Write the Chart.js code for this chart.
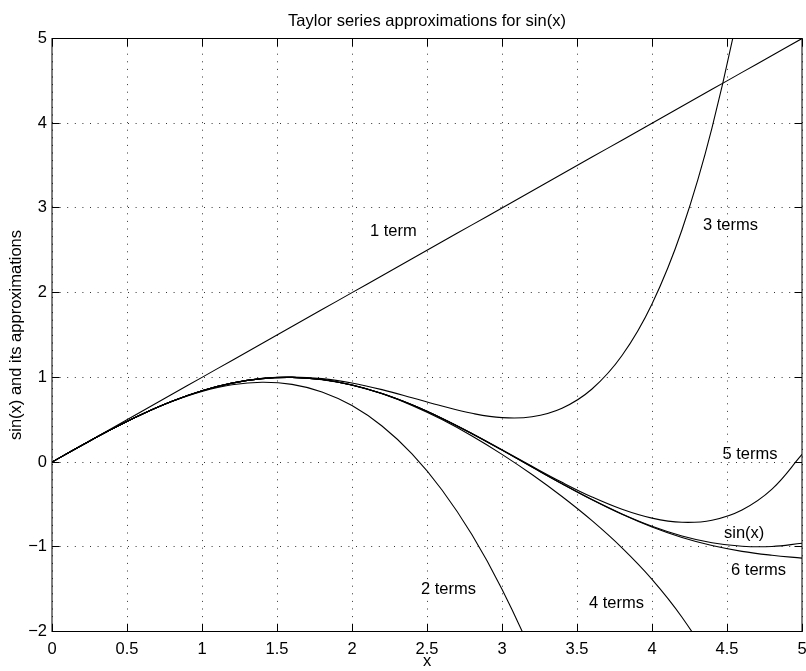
<!DOCTYPE html>
<html>
<head>
<meta charset="utf-8">
<script src="https://cdn.jsdelivr.net/npm/chart.js@4.4.1/dist/chart.umd.min.js"></script>
<style>
  html, body { margin: 0; padding: 0; background: #fff; }
  #wrap { width: 806px; height: 671px; }
</style>
</head>
<body>
<div id="wrap"><canvas id="taylorChart" width="806" height="671"></canvas></div>
<script>
// sample points along x
const xs = [0, 0.2, 0.4, 0.6, 0.8, 1.0, 1.2, 1.4, 1.6, 1.8, 2.0, 2.2, 2.4,
  2.6, 2.8, 3.0, 3.2, 3.4, 3.6, 3.8, 4.0, 4.2, 4.4, 4.6, 4.8, 5.0];

const sinX = [0, 0.1987, 0.3894, 0.5646, 0.7174, 0.8415, 0.9320, 0.9854, 0.9996,
  0.9738, 0.9093, 0.8085, 0.6755, 0.5155, 0.3350, 0.1411, -0.0584, -0.2555,
  -0.4425, -0.6119, -0.7568, -0.8716, -0.9516, -0.9937, -0.9962, -0.9589];
const term1 = [0, 0.2, 0.4, 0.6, 0.8, 1.0, 1.2, 1.4, 1.6, 1.8, 2.0, 2.2, 2.4,
  2.6, 2.8, 3.0, 3.2, 3.4, 3.6, 3.8, 4.0, 4.2, 4.4, 4.6, 4.8, 5.0];
const term2 = [0, 0.1987, 0.3893, 0.5640, 0.7147, 0.8333, 0.9120, 0.9427, 0.9173,
  0.8280, 0.6667, 0.4253, 0.0960, -0.3293, -0.8587, -1.5, -2.2613, -3.1507,
  -4.176, -5.3453, -6.6667, -8.148, -9.7973, -11.6227, -13.632, -15.8333];
const term3 = [0, 0.1987, 0.3894, 0.5646, 0.7174, 0.8417, 0.9327, 0.9875, 1.0047,
  0.9855, 0.9333, 0.8548, 0.7596, 0.6608, 0.5755, 0.525, 0.5349, 0.6356,
  0.8629, 1.2576, 1.8667, 2.7429, 3.9457, 5.5409, 7.6017, 10.2083];
const term4 = [0, 0.1987, 0.3894, 0.5646, 0.7174, 0.8415, 0.9320, 0.9854, 0.9994,
  0.9733, 0.9079, 0.8053, 0.6686, 0.5014, 0.3078, 0.0911, -0.1469, -0.4065,
  -0.6920, -1.0126, -1.3841, -1.8313, -2.3892, -3.1063, -4.0465, -5.2927];
const term5 = [0, 0.1987, 0.3894, 0.5646, 0.7174, 0.8415, 0.9320, 0.9855, 0.9996,
  0.9739, 0.9093, 0.8086, 0.6758, 0.5164, 0.3370, 0.1453, -0.0499, -0.2392,
  -0.4121, -0.5573, -0.6617, -0.7106, -0.6858, -0.5650, -0.3191, 0.0896];
const term6 = [0, 0.1987, 0.3894, 0.5646, 0.7174, 0.8415, 0.9320, 0.9854, 0.9996,
  0.9738, 0.9093, 0.8085, 0.6755, 0.5155, 0.3349, 0.1409, -0.0589, -0.2568,
  -0.4451, -0.6170, -0.7668, -0.8903, -0.9856, -1.0538, -1.0998, -1.1337];

// text labels placed on the plot (data coordinates)
const labelText = ['1 term', '2 terms', '3 terms', '4 terms', '5 terms', '6 terms', 'sin(x)'];
const labelX = [2.12, 2.46, 4.34, 3.58, 4.47, 4.527, 4.48];
const labelY = [2.72, -1.50, 2.79, -1.672, 0.09, -1.275, -0.844];

const FONT = "'Liberation Sans', Arial, Helvetica, sans-serif";
const FSIZE = 16.5;
const TICK = 7.5;

Chart.defaults.font.family = FONT;
Chart.defaults.color = '#000';

function series(ys) {
  return xs.map((x, i) => ({ x: x, y: ys[i] }));
}

function line(ys) {
  return {
    data: series(ys),
    borderColor: '#000',
    borderWidth: 1.1,
    pointRadius: 0,
    fill: false,
    tension: 0.4
  };
}

// box, inward ticks on all four sides, and the curve labels
const matlabFrame = {
  id: 'matlabFrame',
  afterLayout(chart) {
    // center the title over the plot box, like MATLAB does
    const tb = chart.titleBlock;
    if (tb) {
      tb.left = chart.chartArea.left;
      tb.right = chart.chartArea.right;
    }
  },
  afterDraw(chart) {
    const { ctx, chartArea: a, scales: { x, y } } = chart;
    const align = p => Math.round(p - 0.5) + 0.5;
    ctx.save();
    ctx.strokeStyle = '#000';
    ctx.lineWidth = 1;
    ctx.beginPath();
    x.ticks.forEach(t => {
      const px = align(x.getPixelForValue(t.value));
      ctx.moveTo(px, a.bottom); ctx.lineTo(px, a.bottom - TICK);
      ctx.moveTo(px, a.top); ctx.lineTo(px, a.top + TICK);
    });
    y.ticks.forEach(t => {
      const py = align(y.getPixelForValue(t.value));
      ctx.moveTo(a.left, py); ctx.lineTo(a.left + TICK, py);
      ctx.moveTo(a.right, py); ctx.lineTo(a.right - TICK, py);
    });
    ctx.stroke();
    ctx.strokeRect(a.left, a.top, a.right - a.left, a.bottom - a.top);

    ctx.font = FSIZE + 'px ' + FONT;
    ctx.fillStyle = '#000';
    ctx.textAlign = 'left';
    ctx.textBaseline = 'middle';
    labelText.forEach((s, i) => {
      ctx.fillText(s, x.getPixelForValue(labelX[i]), y.getPixelForValue(labelY[i]));
    });
    ctx.restore();
  }
};

const gridOpts = { color: '#333', lineWidth: 1, drawTicks: false, borderDash: [1, 6.6] };
const borderOpts = { display: false, dash: [1, 6.6] };
const fmt = v => (v < 0 ? '\u2212' + Math.abs(v) : String(v));

new Chart(document.getElementById('taylorChart').getContext('2d'), {
  type: 'line',
  data: {
    datasets: [line(term1), line(term2), line(term3), line(term4),
      line(term5), line(term6), line(sinX)]
  },
  options: {
    responsive: false,
    animation: false,
    events: [],
    layout: { padding: { left: 0, right: 4, top: 0, bottom: 0 } },
    plugins: {
      legend: { display: false },
      tooltip: { enabled: false },
      title: {
        display: true,
        text: 'Taylor series approximations for sin(x)',
        color: '#000',
        font: { size: FSIZE, weight: 'normal', lineHeight: 1 },
        padding: { top: 13.35, bottom: 8.65 }
      }
    },
    scales: {
      x: {
        type: 'linear',
        min: 0,
        max: 5,
        grid: gridOpts,
        border: borderOpts,
        ticks: { stepSize: 0.5, autoSkip: false, maxRotation: 0, padding: 8, font: { size: FSIZE }, callback: fmt },
        title: { display: true, text: 'x', font: { size: FSIZE, lineHeight: 1 }, padding: { top: 0, bottom: 1 } },
        afterFit(scale) {
          scale.height = 39.5;
          scale.paddingLeft = 0;
          scale.paddingRight = 0;
        }
      },
      y: {
        type: 'linear',
        min: -2,
        max: 5,
        grid: gridOpts,
        border: borderOpts,
        ticks: { stepSize: 1, autoSkip: false, padding: 5, font: { size: FSIZE }, callback: fmt },
        title: {
          display: true,
          text: 'sin(x) and its approximations',
          font: { size: FSIZE, lineHeight: 1 },
          padding: { top: 8, bottom: 0 }
        },
        afterFit(scale) {
          scale.width = 52;
          scale.paddingTop = 0;
          scale.paddingBottom = 0;
        }
      }
    }
  },
  plugins: [matlabFrame]
});
</script>
</body>
</html>
